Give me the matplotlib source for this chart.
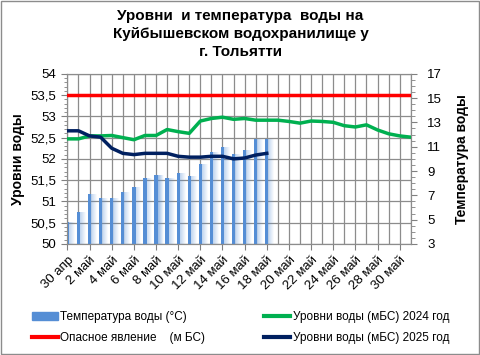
import numpy as np
import matplotlib
matplotlib.use("Agg")
import matplotlib.pyplot as plt
from matplotlib.patches import Rectangle
from matplotlib.lines import Line2D
from matplotlib.ticker import MultipleLocator, FixedLocator, FuncFormatter

plt.rcParams['font.family'] = ['Liberation Sans', 'DejaVu Sans']

# 30 апр .. 31 май
days = ['30 апр'] + ['%d май' % d for d in range(1, 32)]

# температура воды 2025, °C (с 30 апр по 18 май)
temp_2025 = [4.8, 5.6, 7.1, 6.8, 6.8, 7.3, 7.7, 8.4, 8.7, 8.4,
             8.85, 8.6, 9.6, 10.6, 11.0, 10.4, 10.75, 11.6, 11.65]

# уровни воды, м БС
level_2024 = [52.47, 52.47, 52.54, 52.54, 52.55, 52.50, 52.45, 52.55, 52.55, 52.69,
              52.64, 52.60, 52.89, 52.95, 52.98, 52.93, 52.95, 52.91, 52.91, 52.91,
              52.88, 52.84, 52.89, 52.88, 52.86, 52.78, 52.75, 52.80, 52.68, 52.59,
              52.54, 52.51]
level_2025 = [52.66, 52.66, 52.54, 52.51, 52.25, 52.13, 52.10, 52.13, 52.13, 52.13,
              52.06, 52.04, 52.04, 52.06, 52.06, 52.00, 52.02, 52.09, 52.13]
danger_level = 53.5

x_all = np.arange(len(days))
x_t = np.arange(len(temp_2025))

fig = plt.figure(figsize=(4.81, 3.55), dpi=100)
fig.patches.append(Rectangle((0.002, 0.003), 0.994, 0.994, transform=fig.transFigure,
                             fill=False, edgecolor='#8c8c8c', linewidth=1))

ax = fig.add_axes([0.139, 0.313, 0.715, 0.479])
ax2 = ax.twinx()
ax.set_zorder(ax2.get_zorder() + 1)
ax.patch.set_visible(False)
ax2.set_facecolor('#f2f2f2')

# бары температуры с "градиентом"
bar_col = '#558ed5'
for k, a in enumerate(np.linspace(0.35, 0.04, 6)):
    ax2.bar(x_t + 0.18 + k * 0.09, np.array(temp_2025) - 3, width=0.1, bottom=3,
            color=bar_col, alpha=a, linewidth=0, zorder=2)
ax2.bar(x_t, np.array(temp_2025) - 3, width=0.3, bottom=3, color=bar_col,
        linewidth=0, zorder=3)
ax2.set_ylim(3, 17)
ax2.yaxis.set_major_locator(FixedLocator(np.arange(3, 18, 2)))
ax2.yaxis.set_minor_locator(FixedLocator(np.arange(3, 17.01, 0.5)))
ax2.tick_params(axis='y', which='major', labelsize=9.5, length=4, color='#808080', pad=8)
ax2.tick_params(axis='y', which='minor', length=3, color='#808080')
ax2.set_ylabel('Температура воды', fontsize=10, fontweight='bold', labelpad=8)
ax2.yaxis.set_label_coords(1.13, 0.5)

ax.plot(x_all, [danger_level] * len(days), color='#ff0000', lw=2.5, zorder=4)
ax.plot(x_all, level_2024, color='#00b050', lw=2.5, zorder=5)
ax.plot(x_t, level_2025, color='#002060', lw=2.5, zorder=6)

ax.set_xlim(-0.05, len(days) - 1)
ax.set_ylim(50, 54)
ax.yaxis.set_major_locator(MultipleLocator(0.5))
ax.yaxis.set_minor_locator(MultipleLocator(0.1))
ax.yaxis.set_major_formatter(FuncFormatter(lambda v, p: ('%g' % v).replace('.', ',')))
ax.tick_params(axis='y', which='major', labelsize=9.5, length=4, color='#808080')
ax.tick_params(axis='y', which='minor', length=2.5, color='#808080')
ax.set_ylabel('Уровни воды', fontsize=10, fontweight='bold', labelpad=4)

ax.set_xticks(x_all[::2])
ax.set_xticklabels(days[::2], rotation=45, ha='right', rotation_mode='anchor', fontsize=9.5)
ax.set_xticks(x_all, minor=True)
ax.tick_params(axis='x', which='major', length=4, color='#808080')
ax.tick_params(axis='x', which='minor', length=0)

# сетка
for xv in x_all:
    ax2.axvline(xv, color='#8c8c8c', lw=0.9, zorder=1)
for yv in np.arange(3, 17.01, 14 / 8):
    ax2.axhline(yv, color='#8c8c8c', lw=0.9, zorder=1)

for a_ in (ax, ax2):
    for s in a_.spines.values():
        s.set_color('#8c8c8c')

fig.suptitle('Уровни  и температура  воды на\nКуйбышевском водохранилище у\nг. Тольятти',
             fontsize=11, fontweight='bold', y=0.975, linespacing=1.35)

handles = [Rectangle((0, 0), 1, 1, color=bar_col),
           Line2D([], [], color='#ff0000', lw=3),
           Line2D([], [], color='#00b050', lw=3),
           Line2D([], [], color='#002060', lw=3)]
labels = ['Температура воды (°С)', 'Опасное явление    (м БС)',
          'Уровни воды (мБС) 2024 год', 'Уровни воды (мБС) 2025 год']
fig.legend(handles, labels, ncol=2, loc='lower center', bbox_to_anchor=(0.5, 0.0),
           frameon=False, fontsize=8.5, handlelength=2.2, handletextpad=0.2,
           columnspacing=5.0, labelspacing=0.8)

fig.savefig('out.png', dpi=100)
